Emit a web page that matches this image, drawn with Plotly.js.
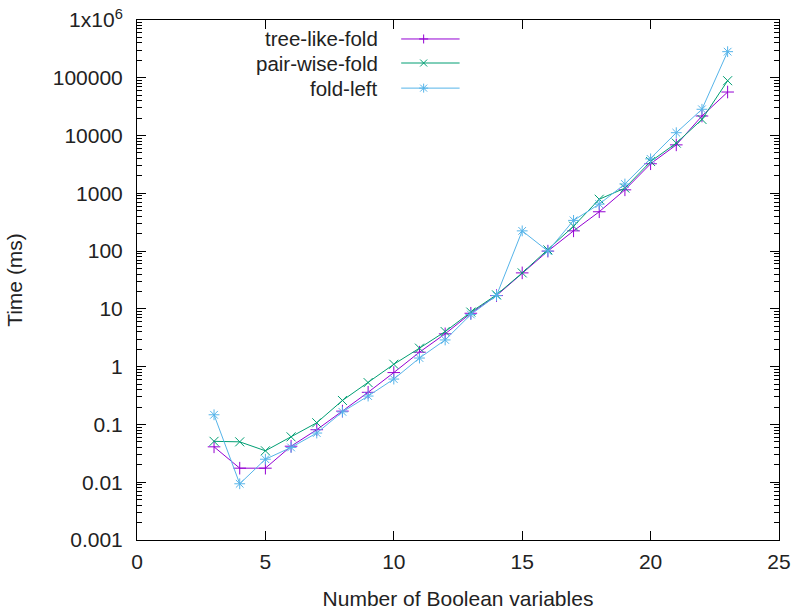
<!DOCTYPE html>
<html>
<head>
<meta charset="utf-8">
<script src="https://cdn.plot.ly/plotly-3.0.1.min.js"></script>
<style>html,body{margin:0;padding:0;background:#fff;}#chart{width:793px;height:614px;}</style>
</head>
<body>
<div id="chart"></div>
<script>
const nVars = [3,4,5,6,7,8,9,10,11,12,13,14,15,16,17,18,19,20,21,22,23];
const treeLikeFold = [0.041,0.0175,0.0175,0.042,0.081,0.17,0.36,0.79,1.78,3.7,8.4,17,42,100,224,480,1150,3250,6900,21800,56700];
const pairWiseFold = [0.051,0.05,0.035,0.061,0.107,0.26,0.53,1.1,2.09,4.05,8.8,17.5,42,105,270,790,1230,3550,7400,19000,89000];
const foldLeft = [0.147,0.0094,0.025,0.04,0.071,0.165,0.31,0.61,1.41,2.9,8.0,17,224,100,340,650,1450,3950,11200,28500,283000];
const seriesNames = ['tree-like-fold','pair-wise-fold','fold-left'];
const yTickVals = [0.001,0.01,0.1,1,10,100,1000,10000,100000,1000000];
const yTickText = ['0.001','0.01','0.1','1','10','100','1000','10000','100000','1x10<sup>6</sup>'];
const xTickVals = [0,5,10,15,20,25];

const colors = ['#9400d3','#009e73','#56b4e9'];
const symbols = ['cross-thin-open','x-thin-open','asterisk-open'];
const data = [treeLikeFold, pairWiseFold, foldLeft];
const FONT = 'Liberation Sans, Arial, sans-serif';
const FS = 21;

const traces = data.map((ys,i)=>({
  x: nVars, y: ys, type:'scatter', mode:'lines+markers', name: seriesNames[i],
  line:{color:colors[i], width:1},
  marker:{symbol:symbols[i], size:9, color:colors[i], line:{color:colors[i], width:1}},
  showlegend:false
}));

// Manual gnuplot-style key: right-aligned text, sample line to the right
const keyY = [0.9635, 0.9173, 0.869];
const annotations = [];
const shapes = [];
seriesNames.forEach((nm,i)=>{
  annotations.push({xref:'paper', yref:'paper', x:0.3785, y:keyY[i], text:nm, showarrow:false,
    xanchor:'right', yanchor:'middle', font:{family:FONT, size:20.5, color:'#222'}});
  shapes.push({type:'line', xref:'paper', yref:'paper', x0:0.4115, x1:0.5025, y0:keyY[i], y1:keyY[i],
    line:{color:colors[i], width:1}});
  const mk = (x0,y0,x1,y1)=>shapes.push({type:'line', xref:'paper', yref:'paper', xsizemode:'pixel', ysizemode:'pixel',
    xanchor:0.4465, yanchor:keyY[i], x0:x0, y0:y0, x1:x1, y1:y1, line:{color:colors[i], width:1}});
  if(i===0){ mk(-4.5,0,4.5,0); mk(0,-4.5,0,4.5); }
  if(i===1){ mk(-3.5,-3.5,3.5,3.5); mk(-3.5,3.5,3.5,-3.5); }
  if(i===2){ mk(-4.5,0,4.5,0); mk(0,-4.5,0,4.5); mk(-3.5,-3.5,3.5,3.5); mk(-3.5,3.5,3.5,-3.5); }
});

const layout = {
  width:793, height:614,
  margin:{l:137, r:14, t:20, b:74},
  paper_bgcolor:'#fff', plot_bgcolor:'#fff',
  font:{family:FONT, size:FS, color:'#222'},
  xaxis:{
    range:[0,25], tickvals:xTickVals, ticks:'inside', ticklen:9, tickcolor:'#000',
    showline:true, linecolor:'#000', linewidth:1, mirror:'allticks', showgrid:false, zeroline:false,
    tickfont:{family:FONT, size:FS, color:'#222'}, ticklabelstandoff:3,
    title:{text:'Number of Boolean variables', font:{family:FONT, size:FS, color:'#222'}, standoff:19}
  },
  yaxis:{
    type:'log', range:[-3,6], tickvals:yTickVals, ticktext:yTickText,
    ticks:'inside', ticklen:9, tickcolor:'#000',
    showline:true, linecolor:'#000', linewidth:1, mirror:'allticks', showgrid:false, zeroline:false,
    tickfont:{family:FONT, size:FS, color:'#222'}, ticklabelstandoff:9,
    minor:{ticks:'inside', ticklen:5, tickcolor:'#000', dtick:'D1', showgrid:false},
    title:{text:'Time (ms)', font:{family:FONT, size:FS, color:'#222'}, standoff:24}
  },
  annotations:annotations,
  shapes:shapes
};

Plotly.newPlot('chart', traces, layout, {displayModeBar:false, staticPlot:true});
</script>
</body>
</html>
